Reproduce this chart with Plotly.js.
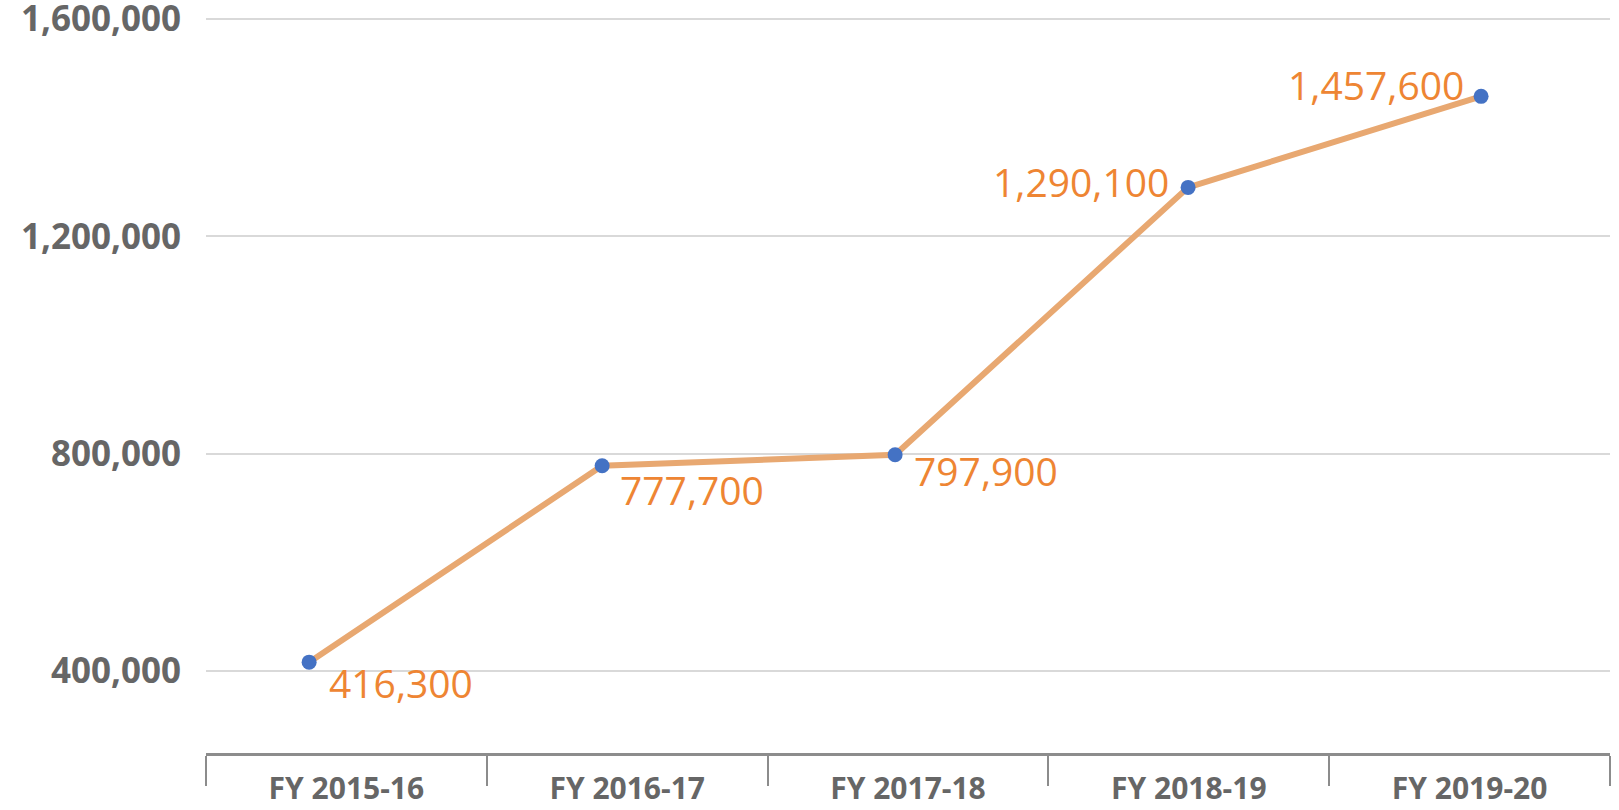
<!DOCTYPE html>
<html>
<head>
<meta charset="utf-8">
<script src="https://cdn.plot.ly/plotly-3.0.1.min.js"></script>
<style>
  html, body { margin: 0; padding: 0; background: #ffffff; }
  #chart { width: 1619px; height: 810px; }
</style>
</head>
<body>
<div id="chart"></div>
<script>
// ---- data ----
const categories = ["FY 2015-16", "FY 2016-17", "FY 2017-18", "FY 2018-19", "FY 2019-20"];
const values = [416300, 777700, 797900, 1290100, 1457600];
const yTickVals = [400000, 800000, 1200000, 1600000];
const yTickText = ["400,000", "800,000", "1,200,000", "1,600,000"];

// label placement style (pixel offsets from each point)
const labelAnchor = ["left", "left", "left", "right", "right"];
const labelXShift = [18, 16, 17, -17, -15];
const labelYShift = [-20, -24, -16, 6, 12];

const fmt = v => v.toLocaleString("en-US");

const traces = [
  { // invisible trace that carries the category axis
    x: categories, y: values, xaxis: "x", yaxis: "y",
    type: "scatter", mode: "markers",
    marker: { opacity: 0 }, hoverinfo: "skip", showlegend: false
  },
  {
    x: categories, y: values, xaxis: "x2", yaxis: "y",
    type: "scatter", mode: "lines+markers",
    line: { color: "#E8A871", width: 6 },
    marker: { color: "#4472C4", size: 15 },
    showlegend: false
  }
];

const annotations = categories.map((c, i) => ({
  x: c, y: values[i], xref: "x2", yref: "y",
  text: fmt(values[i]), showarrow: false,
  xanchor: labelAnchor[i], yanchor: "middle",
  xshift: labelXShift[i], yshift: labelYShift[i],
  font: { family: "Open Sans, sans-serif", size: 39, color: "#EE8533" }
}));

const layout = {
  width: 1619, height: 810,
  margin: { l: 206, r: 9, t: 17, b: 57 },
  paper_bgcolor: "#ffffff", plot_bgcolor: "#ffffff",
  showlegend: false,
  xaxis: {
    type: "category", categoryorder: "array", categoryarray: categories,
    range: [-0.5, 4.5],
    showgrid: false, zeroline: false,
    showline: true, linecolor: "#8C8C8C", linewidth: 3,
    ticks: "outside", tickson: "boundaries", ticklen: 30, tickwidth: 2, tickcolor: "#8C8C8C",
    ticklabelstandoff: 7, ticklabeloverflow: "allow",
    tickfont: { family: "Open Sans, sans-serif", size: 30, color: "#666666", weight: "bold" },
    fixedrange: true
  },
  xaxis2: {
    type: "category", categoryorder: "array", categoryarray: categories,
    overlaying: "x", range: [-0.352, 4.44], visible: false, fixedrange: true
  },
  yaxis: {
    range: [249100, 1603680],
    tickvals: yTickVals, ticktext: yTickText,
    showgrid: true, gridcolor: "#D9D9D9", gridwidth: 2,
    zeroline: false, showline: false, ticks: "",
    ticklabelstandoff: 24, ticklabelshift: 0, ticklabeloverflow: "allow",
    tickfont: { family: "Open Sans, sans-serif", size: 35, color: "#666666", weight: "bold" },
    fixedrange: true
  },
  annotations: annotations
};

Plotly.newPlot("chart", traces, layout, { displayModeBar: false, staticPlot: true });
</script>
</body>
</html>
